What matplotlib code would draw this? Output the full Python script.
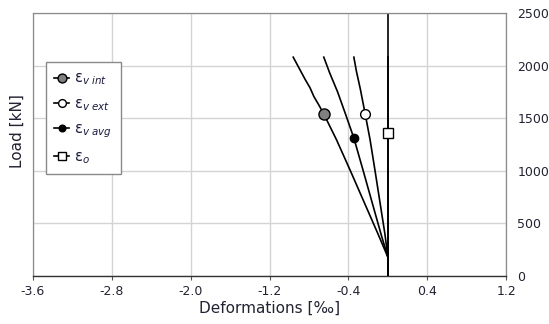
import matplotlib.pyplot as plt
import numpy as np

# deformation [permille] vs load [kN]
vint_x = [0.0, 0.0, -0.10, -0.24, -0.38, -0.52, -0.65, -0.70, -0.75, -0.79, -0.84, -0.88, -0.92, -0.96]
vint_y = [0, 180, 400, 700, 1000, 1293, 1540, 1625, 1705, 1790, 1870, 1940, 2010, 2080]
vext_x = [0.0, 0.0, -0.03, -0.08, -0.13, -0.18, -0.23, -0.28, -0.32, -0.345]
vext_y = [0, 180, 400, 700, 1000, 1293, 1540, 1780, 1950, 2080]
vavg_x = [0.0, 0.0, -0.07, -0.16, -0.25, -0.345, -0.43, -0.51, -0.59, -0.65]
vavg_y = [0, 180, 400, 700, 1000, 1312, 1540, 1750, 1930, 2080]
eo_x = [0.0, 0.0, 0.0]
eo_y = [0, 1360, 2080]

xticks = [-3.6, -2.8, -2.0, -1.2, -0.4, 0.4, 1.2]
yticks = [0, 500, 1000, 1500, 2000, 2500]

TXT = '#222233'

fig = plt.figure(figsize=(5.49, 3.24), dpi=100)
ax = fig.add_axes([0.060, 0.148, 0.862, 0.812])

ax.axvline(0.0, color='black', lw=1.2, zorder=2)

l1, = ax.plot(vint_x, vint_y, color='black', lw=1.2, marker='o', markevery=[6],
              ms=8, mfc='#808080', mec='black', mew=1.0, zorder=3)
l2, = ax.plot(vext_x, vext_y, color='black', lw=1.2, marker='o', markevery=[6],
              ms=7, mfc='white', mec='black', mew=1.0, zorder=3)
l3, = ax.plot(vavg_x, vavg_y, color='black', lw=1.2, marker='o', markevery=[5],
              ms=6, mfc='black', mec='black', zorder=3)
l4, = ax.plot(eo_x, eo_y, color='black', lw=1.2, marker='s', markevery=[1],
              ms=7, mfc='white', mec='black', mew=1.0, zorder=3)

ax.set_xlim(-3.6, 1.2)
ax.set_ylim(0, 2500)
ax.set_xticks(xticks)
ax.set_xticklabels(['%.1f' % v for v in xticks])
ax.set_yticks(yticks)
ax.yaxis.tick_right()
ax.tick_params(axis='both', labelsize=9, colors='#555555', labelcolor=TXT, length=3)
ax.tick_params(axis='y', length=0, pad=8)
ax.grid(True, color='#d4d4d4', lw=1.0)
ax.set_axisbelow(True)

for s in ['top', 'left', 'right']:
    ax.spines[s].set_color('#8a8a8a')
    ax.spines[s].set_linewidth(0.9)
ax.spines['bottom'].set_color('#333333')
ax.spines['bottom'].set_linewidth(1.0)

ax.set_xlabel('Deformations [\u2030]', fontsize=11, color=TXT, labelpad=2)
fig.text(0.031, 0.595, 'Load [kN]', rotation=90, fontsize=11, color=TXT,
         ha='center', va='center')

leg = ax.legend([l1, l2, l3, l4],
                ['\u03b5$_{v\\ int}$', '\u03b5$_{v\\ ext}$',
                 '\u03b5$_{v\\ avg}$', '\u03b5$_{o}$'],
                loc='upper left', bbox_to_anchor=(0.027, 0.814),
                borderaxespad=0, fontsize=10.5, handlelength=1.0, labelspacing=0.6,
                borderpad=0.6, handletextpad=0.35, fancybox=False,
                framealpha=1.0, edgecolor='#8a8a8a', markerscale=0.8)
leg.get_frame().set_linewidth(1.0)
for t in leg.get_texts():
    t.set_color('#1a1a40')

fig.savefig('out.png', dpi=100)
